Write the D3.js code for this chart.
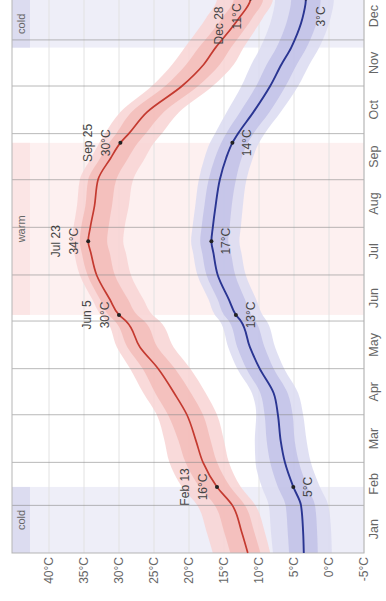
<!DOCTYPE html>
<html>
<head>
<meta charset="utf-8">
<script src="https://cdnjs.cloudflare.com/ajax/libs/d3/7.8.5/d3.min.js"></script>
<style>
body { margin: 0; background: #fff; }
svg { display: block; font-family: "Liberation Sans", Arial, sans-serif; }
</style>
</head>
<body>
<svg></svg>
<script>
// daily average high / low temperature (°C) with 10-25-75-90 percentile bands
const dates = ['2021-01-01', '2021-01-15', '2021-02-01', '2021-02-13', '2021-03-01', '2021-03-15',
  '2021-04-01', '2021-04-15', '2021-05-01', '2021-05-15', '2021-06-01', '2021-06-05', '2021-06-15',
  '2021-07-01', '2021-07-15', '2021-07-23', '2021-08-01', '2021-08-15', '2021-09-01', '2021-09-15',
  '2021-09-25', '2021-10-01', '2021-10-15', '2021-11-01', '2021-11-15', '2021-11-26', '2021-12-01',
  '2021-12-15', '2021-12-28', '2021-12-31']

const highMean = [11.6, 12.5, 13.8, 16.0, 18.0, 19.0, 20.3, 22.1, 24.4, 27.0, 29.0, 30.0, 31.3, 33.2, 34.0,
  34.4, 34.1, 33.5, 33.0, 31.2, 29.8, 28.6, 26.0, 21.0, 17.9, 16.2, 15.3, 12.9, 11.2, 11.4]
const highP10 = [8.4, 9.2, 10.5, 12.6, 14.3, 15.0, 16.0, 17.6, 19.8, 22.2, 24.2, 25.2, 26.5, 28.3, 29.0,
  29.4, 29.2, 28.6, 28.0, 26.3, 25.0, 23.9, 21.4, 16.6, 13.6, 12.2, 11.5, 9.5, 8.0, 8.2]
const highP25 = [9.8, 10.7, 12.0, 14.1, 16.0, 16.9, 18.0, 19.7, 22.0, 24.5, 26.4, 27.4, 28.7, 30.6, 31.3,
  31.7, 31.5, 31.0, 30.4, 28.7, 27.3, 26.2, 23.6, 18.7, 15.6, 14.0, 13.2, 11.0, 9.4, 9.6]
const highP75 = [14.1, 15.0, 16.3, 18.5, 20.5, 21.5, 23.0, 24.8, 26.6, 28.8, 30.6, 31.5, 32.7, 34.5, 35.3,
  35.6, 35.4, 34.8, 34.4, 32.7, 31.4, 30.4, 28.2, 23.4, 20.4, 18.6, 17.7, 15.3, 13.6, 13.8]
const highP90 = [16.6, 17.5, 18.8, 21.0, 22.8, 23.5, 24.6, 26.5, 28.4, 30.3, 31.8, 32.6, 33.8, 35.6, 36.4,
  36.8, 36.5, 36.0, 35.6, 34.0, 32.8, 32.0, 29.8, 25.3, 22.4, 20.6, 19.8, 17.6, 16.0, 16.3]

const lowMean = [3.6, 3.7, 4.0, 5.1, 6.3, 6.9, 7.3, 7.9, 9.9, 11.3, 12.6, 13.3, 14.3, 15.9, 16.5,
  16.8, 16.6, 16.2, 15.6, 14.7, 13.8, 13.0, 10.8, 8.4, 6.8, 5.4, 4.9, 3.8, 3.3, 3.4]
const lowP10 = [-0.4, -0.3, 0.1, 1.3, 2.6, 3.2, 3.7, 4.4, 6.4, 7.7, 8.9, 9.5, 10.4, 11.9, 12.5,
  12.8, 12.6, 12.3, 11.8, 10.9, 10.0, 9.2, 6.9, 4.4, 2.8, 1.4, 0.9, -0.2, -0.7, -0.6]
const lowP25 = [1.6, 1.7, 2.0, 3.1, 4.3, 4.9, 5.2, 5.9, 7.9, 9.2, 10.5, 11.1, 12.0, 13.4, 14.0,
  14.4, 14.2, 13.9, 13.3, 12.5, 11.6, 10.8, 8.5, 6.2, 4.6, 3.2, 2.7, 1.6, 1.2, 1.3]
const lowP75 = [5.7, 5.9, 6.2, 7.3, 8.4, 8.9, 9.2, 9.8, 11.8, 13.1, 14.3, 15.0, 15.9, 17.5, 18.1,
  18.4, 18.2, 17.8, 17.2, 16.3, 15.4, 14.7, 12.7, 10.4, 8.9, 7.5, 7.0, 5.9, 5.4, 5.5]
const lowP90 = [8.0, 8.3, 8.6, 9.6, 10.5, 10.6, 10.4, 11.0, 13.1, 14.4, 15.6, 16.3, 17.2, 18.8, 19.4,
  19.7, 19.5, 19.1, 18.6, 17.8, 17.0, 16.3, 14.6, 12.5, 11.1, 9.8, 9.3, 8.2, 7.7, 7.8]

const months = ['Jan', 'Feb', 'Mar', 'Apr', 'May', 'Jun', 'Jul', 'Aug', 'Sep', 'Oct', 'Nov', 'Dec']
const tempTicks = [-5, 0, 5, 10, 15, 20, 25, 30, 35, 40]

// seasons
const seasons = [
  { name: 'cold', start: '2021-01-01', end: '2021-02-13' },
  { name: 'warm', start: '2021-06-05', end: '2021-09-25' },
  { name: 'cold', start: '2021-11-26', end: '2022-01-01' }
]

// annotated days
const noteDates = ['2021-02-13', '2021-06-05', '2021-07-23', '2021-09-25', '2021-12-28']
const noteNames = ['Feb 13', 'Jun 5', 'Jul 23', 'Sep 25', 'Dec 28']
const noteHigh = ['16°C', '30°C', '34°C', '30°C', '11°C']
const noteLow = ['5°C', '13°C', '17°C', '14°C', '3°C']

const parse = d3.timeParse('%Y-%m-%d')
const days = dates.map(parse)

// the chart is drawn landscape and turned a quarter turn
const dims = { height: 601, width: 386 }
const chart = { top: 12, bottom: 364, left: 48 }

const svg = d3.select('svg')
  .attr('height', dims.height)
  .attr('width', dims.width)

const g = svg.append('g')
  .attr('transform', `translate(0,${dims.height}) rotate(-90)`)

const x = d3.scaleTime()
  .domain([new Date(2021, 0, 1), new Date(2022, 0, 1)])
  .range([chart.left, 608.7])

const y = d3.scaleLinear()
  .domain([-5, 40])
  .range([chart.bottom, 49])

const xEnd = x.range()[1]

// season shading
seasons.forEach(s => {
  const x0 = x(parse(s.start))
  const x1 = x(parse(s.end))
  g.append('rect')
    .attr('x', x0).attr('y', chart.top)
    .attr('width', x1 - x0).attr('height', chart.bottom - chart.top)
    .attr('fill', s.name === 'cold' ? '#eeeef8' : '#fdf0f0')
  g.append('rect')
    .attr('x', x0).attr('y', chart.top)
    .attr('width', x1 - x0).attr('height', 18)
    .attr('fill', s.name === 'cold' ? '#dcdcf0' : '#fbe5e5')
  g.append('text')
    .attr('x', (x0 + Math.min(x1, dims.height)) / 2)
    .attr('y', chart.top + 13)
    .attr('text-anchor', 'middle')
    .attr('font-size', 11)
    .attr('fill', '#666')
    .text(s.name)
})

// temperature grid
g.selectAll('line.tgrid').data(tempTicks)
  .enter().append('line')
    .attr('class', 'tgrid')
    .attr('x1', chart.left).attr('x2', xEnd)
    .attr('y1', d => y(d)).attr('y2', d => y(d))
    .attr('stroke', '#e2e2e2')

// percentile bands
const bandArea = (lo, hi) => d3.area()
  .x((d, i) => x(days[i]))
  .y0((d, i) => y(lo[i]))
  .y1((d, i) => y(hi[i]))
  .curve(d3.curveMonotoneX)

const bands = [
  [highP10, highP90, '#f8d4d3'],
  [highP25, highP75, '#f3bcb9'],
  [lowP10, lowP90, '#dadaf1'],
  [lowP25, lowP75, '#c2c2e8']
]
bands.forEach(([lo, hi, col]) => {
  g.append('path')
    .attr('d', bandArea(lo, hi)(days))
    .attr('fill', col)
    .attr('fill-opacity', 0.85)
})

// month grid
const monthStarts = d3.timeMonths(new Date(2021, 0, 1), new Date(2022, 0, 1))
g.selectAll('line.mgrid').data(monthStarts.slice(1))
  .enter().append('line')
    .attr('class', 'mgrid')
    .attr('x1', d => x(d)).attr('x2', d => x(d))
    .attr('y1', chart.top).attr('y2', chart.bottom)
    .attr('stroke', '#8a8a8a')
    .attr('stroke-opacity', 0.6)

// frame
g.append('rect')
  .attr('x', chart.left).attr('y', chart.top)
  .attr('width', xEnd - chart.left).attr('height', chart.bottom - chart.top)
  .attr('fill', 'none')
  .attr('stroke', '#b5b5b5')

// mean lines
const meanLine = vals => d3.line()
  .x((d, i) => x(days[i]))
  .y((d, i) => y(vals[i]))
  .curve(d3.curveMonotoneX)

g.append('path')
  .attr('d', meanLine(highMean)(days))
  .attr('fill', 'none')
  .attr('stroke', '#c43a30')
  .attr('stroke-width', 1.7)

g.append('path')
  .attr('d', meanLine(lowMean)(days))
  .attr('fill', 'none')
  .attr('stroke', '#2a3592')
  .attr('stroke-width', 1.9)

// axes labels
g.selectAll('text.month').data(monthStarts)
  .enter().append('text')
    .attr('class', 'month')
    .attr('x', d => (x(d) + x(d3.timeMonth.offset(d, 1))) / 2)
    .attr('y', chart.bottom + 14)
    .attr('text-anchor', 'middle')
    .attr('font-size', 12.5)
    .attr('fill', '#666')
    .text((d, i) => months[i])

g.selectAll('text.temp').data(tempTicks)
  .enter().append('text')
    .attr('class', 'temp')
    .attr('x', chart.left - 4)
    .attr('y', d => y(d) + 4)
    .attr('text-anchor', 'end')
    .attr('font-size', 12)
    .attr('fill', '#666')
    .text(d => `${d}°C`)

// annotations
noteDates.forEach((ds, k) => {
  const i = dates.indexOf(ds)
  const px = x(days[i])
  const hy = y(highMean[i])
  const ly = y(lowMean[i])
  const last = k === noteDates.length - 1
  const tx = last ? px - 5 : px
  const anchor = last ? 'end' : 'middle'

  g.append('circle').attr('cx', px).attr('cy', hy).attr('r', 2).attr('fill', '#222')
  g.append('circle').attr('cx', px).attr('cy', ly).attr('r', 2).attr('fill', '#222')

  g.append('text')
    .attr('x', last ? tx - 3 : tx).attr('y', hy - 28)
    .attr('text-anchor', anchor)
    .attr('font-size', 12)
    .attr('fill', '#444')
    .text(noteNames[k])
  g.append('text')
    .attr('x', tx).attr('y', hy - 10)
    .attr('text-anchor', anchor)
    .attr('font-size', 12)
    .attr('fill', '#444')
    .text(noteHigh[k])
  g.append('text')
    .attr('x', last ? tx - 3 : tx).attr('y', ly + 19)
    .attr('text-anchor', anchor)
    .attr('font-size', 12)
    .attr('fill', '#444')
    .text(noteLow[k])
})
</script>
</body>
</html>
